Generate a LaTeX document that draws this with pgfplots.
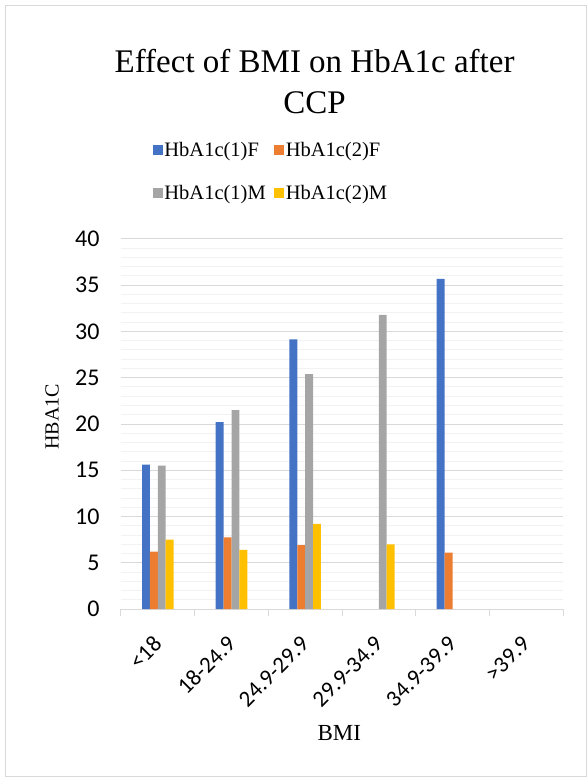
\documentclass[border=0pt]{standalone}
\usepackage{fontspec}
\setmainfont{Liberation Serif}
\newfontfamily\carlito{Carlito}
\usepackage{pgfplots}
\pgfplotsset{compat=1.18}
\definecolor{cF1}{HTML}{4472C4}
\definecolor{cF2}{HTML}{ED7D31}
\definecolor{cM1}{HTML}{A5A5A5}
\definecolor{cM2}{HTML}{FFC000}
\definecolor{cgrid}{HTML}{D9D9D9}
\definecolor{cminor}{HTML}{F2F2F2}
\pgfplotsset{sqleg/.style={legend image code/.code={\fill[##1] (0pt,-5pt) rectangle (10pt,5pt);}}}
\begin{document}
\begin{tikzpicture}
\useasboundingbox (-121pt,-169pt) rectangle (467pt,609pt);
\draw[cgrid, line width=1pt] (-115pt,-167pt) rectangle (465pt,603pt);
\begin{axis}[
  name=ax,
  at={(0pt,0pt)}, anchor=south west,
  scale only axis, width=442pt, height=370pt,
  ybar=0pt, bar width=7.9pt,
  xmin=0.5, xmax=6.5, ymin=0, ymax=40,
  xtick={1,2,3,4,5,6},
  xticklabels={<18,18-24.9,24.9-29.9,29.9-34.9,34.9-39.9,>39.9},
  ytick={0,5,...,40},
  minor y tick num=4,
  ymajorgrids, yminorgrids,
  major grid style={draw=cgrid, line width=1pt},
  minor grid style={draw=cminor, line width=1pt},
  major tick length=0pt, minor tick length=0pt,
  axis x line*=bottom, axis y line*=left,
  x axis line style={draw=cgrid, line width=1pt, -},
  y axis line style={draw=none},
  extra x ticks={0.5,1.5,...,6.5},
  extra x tick labels={},
  extra x tick style={major tick length=7pt, tick align=outside, grid=none, tick style={draw=cgrid, line width=1pt}},
  /pgf/number format/assume math mode=true,
  yticklabel style={font=\carlito\fontsize{24}{24}\selectfont, xshift=-18pt},
  xticklabel style={font=\carlito\fontsize{23}{23}\selectfont, inner sep=0pt, xshift=0pt, yshift=-31pt, rotate=45, anchor=east},
  xlabel={BMI},
  xlabel style={font=\fontsize{23}{23}\selectfont, at={(axis description cs:0.494,-0.335)}, anchor=center},
  ylabel={HBA1C},
  ylabel style={font=\fontsize{20}{20}\selectfont, at={(axis description cs:-0.156,0.519)}, anchor=center},
  title={Effect of BMI on HbA1c after\\CCP},
  title style={font=\fontsize{33}{41}\selectfont, align=center, at={(axis description cs:0.438,1.409)}, anchor=center},
  legend columns=2,
  legend cell align=left,
  legend style={draw=none, fill=none, font=\fontsize{20.5}{20.5}\selectfont, at={(axis description cs:0.065,1.272)}, anchor=north west, row sep=24pt, nodes={inner sep=1.5pt}, /tikz/every even column/.append style={column sep=7pt}},
]
\addplot[fill=cF1, draw=none, sqleg] coordinates {(1,15.6) (2,20.2) (3,29.15) (5,35.7)};
\addplot[fill=cF2, draw=none, sqleg] coordinates {(1,6.2) (2,7.75) (3,6.9) (5,6.1)};
\addplot[fill=cM1, draw=none, sqleg] coordinates {(1,15.5) (2,21.5) (3,25.4) (4,31.8)};
\addplot[fill=cM2, draw=none, sqleg] coordinates {(1,7.5) (2,6.4) (3,9.2) (4,7.0)};
\legend{HbA1c(1)F,HbA1c(2)F,HbA1c(1)M,HbA1c(2)M}
\end{axis}
\end{tikzpicture}
\end{document}
